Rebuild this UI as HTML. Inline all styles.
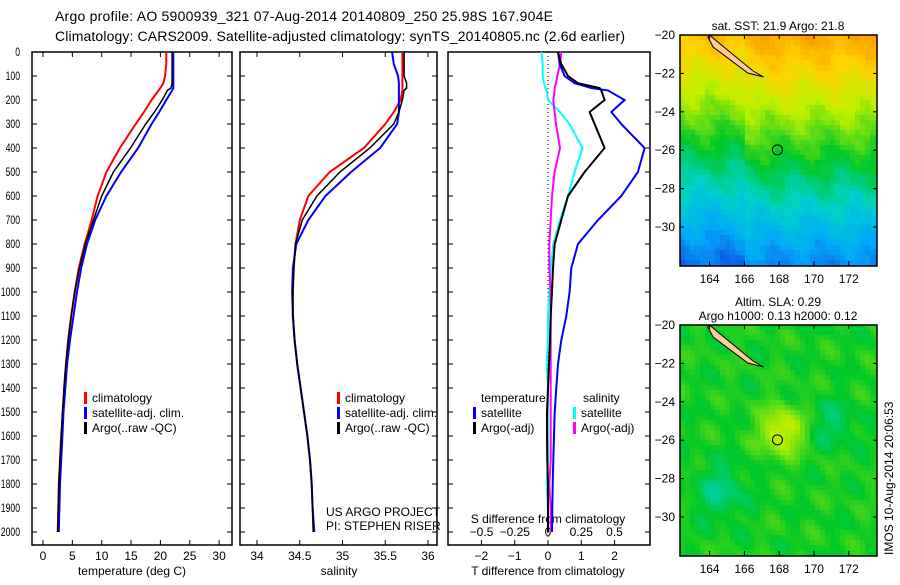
<!DOCTYPE html>
<html><head><meta charset="utf-8">
<style>
body{margin:0;background:#fff;width:900px;height:580px;overflow:hidden;font-family:"Liberation Sans",sans-serif}
svg text{font-family:"Liberation Sans",sans-serif;font-size:12px;fill:#000}
</style></head>
<body>
<svg id="chart" width="900" height="580" xmlns="http://www.w3.org/2000/svg">
<defs><clipPath id="c1"><rect x="680" y="35" width="197" height="231"/></clipPath><clipPath id="c2"><rect x="680" y="325" width="197" height="231"/></clipPath></defs>
<text x="55" y="21" textLength="498" style="font-size:14px">Argo profile: AO 5900939_321 07-Aug-2014 20140809_250 25.98S 167.904E</text>
<text x="55" y="41" textLength="570" style="font-size:14px">Climatology: CARS2009. Satellite-adjusted climatology: synTS_20140805.nc (2.6d earlier)</text>
<g id="g"></g>
<text transform="translate(893,555) rotate(-90)" style="font-size:12px">IMOS 10-Aug-2014 20:06:53</text>
</svg>
<script>
// ---- data ----
const depthTicks=[0,100,200,300,400,500,600,700,800,900,1000,1100,1200,1300,1400,1500,1600,1700,1800,1900,2000];
const tempTicks=[0,5,10,15,20,25,30];
const salTicks=[34,34.5,35,35.5,36];
const tdiffTicks=[-2,-1,0,1,2];
const sdiffTicks=[-0.5,-0.25,0,0.25,0.5];
const depths=[0,50,100,130,150,160,200,250,300,400,500,600,700,800,900,1000,1100,1200,1300,1400,1500,1600,1700,1800,1900,2000];
const tempClim=[21,21,20.8,20.5,20,19.7,18.5,17.2,15.8,13.1,10.8,9.3,8.3,7.1,6.1,5.4,4.8,4.3,3.9,3.6,3.4,3.1,2.9,2.7,2.6,2.5];
const tempArgo=[22,22,22,22,21.8,21.2,20.3,19,17.5,14.9,12,10,8.6,7.2,6.2,5.4,4.8,4.3,3.9,3.6,3.3,3.1,2.9,2.7,2.6,2.5];
const tempSat=[22.2,22.2,22.2,22.2,22.2,22,21,19.8,18.5,16.2,13.3,10.8,8.9,7.5,6.5,5.8,5.2,4.6,4.1,3.8,3.5,3.3,3.1,2.9,2.8,2.7];
const salClim=[35.7,35.7,35.7,35.7,35.7,35.7,35.68,35.6,35.5,35.25,34.85,34.6,34.5,34.45,34.43,34.42,34.42,34.44,34.47,34.51,34.55,34.59,34.62,34.64,34.65,34.66];
const salArgo=[35.72,35.72,35.72,35.75,35.75,35.72,35.7,35.66,35.6,35.32,34.97,34.7,34.53,34.45,34.43,34.42,34.42,34.44,34.47,34.51,34.55,34.59,34.62,34.64,34.65,34.66];
const salSat=[35.58,35.6,35.65,35.66,35.66,35.66,35.66,35.66,35.64,35.44,35.1,34.8,34.6,34.46,34.42,34.41,34.42,34.44,34.47,34.51,34.55,34.59,34.62,34.64,34.65,34.67];
const tdiffSat=[0.3,0.35,0.5,0.8,1.3,1.8,2.3,1.9,2.2,2.9,2.7,2.2,1.5,0.9,0.7,0.65,0.55,0.4,0.3,0.25,0.2,0.18,0.16,0.14,0.13,0.12];
const tdiffArgo=[0.3,0.4,0.6,0.9,1.55,1.6,1.7,1.25,1.4,1.7,1.1,0.6,0.4,0.2,0.15,0.12,0.08,0.06,0.03,0.0,-0.03,-0.03,-0.02,0,0,0];
const sdiffSat=[-0.05,-0.04,-0.04,-0.03,-0.02,-0.01,0,0.09,0.16,0.26,0.2,0.15,0.09,0.04,0.02,0.01,0,0,-0.01,0,0,0,0,-0.01,0,0];
const sdiffArgo=[0.1,0.09,0.07,0.06,0.05,0.05,0.04,0.05,0.06,0.09,0.05,0.03,0.02,0.01,0.01,0.02,0.02,0.02,0.02,0.02,0.02,0.02,0.02,0.01,0.02,0.02];
const latTicks=[-20,-22,-24,-26,-28,-30];
const lonTicks=[164,166,168,170,172];

const NS="http://www.w3.org/2000/svg";
const G=document.getElementById('g');
function el(t,a,p){const e=document.createElementNS(NS,t);for(const k in a)e.setAttribute(k,a[k]);(p||G).appendChild(e);return e;}
const BOT=545;
const Y=d=>52+d*0.24;
function panel(x0,x1,name){
  const r=el('rect',{x:x0,y:52,width:x1-x0,height:BOT-52,fill:'none',stroke:'#000','stroke-width':1.5});
  
  
  depthTicks.forEach(d=>{el('line',{x1:x0,x2:x0+5,y1:Y(d),y2:Y(d),stroke:'#000'});el('line',{x1:x1,x2:x1-5,y1:Y(d),y2:Y(d),stroke:'#000'});});
}
function line(xs,X,col,name,w){
  const pts=depths.map((d,i)=>X(xs[i]).toFixed(1)+','+Y(d).toFixed(1)).join(' ');
  const p=el('polyline',{points:pts,fill:'none',stroke:col,'stroke-width':w||2});
  
  
}
function txt(x,y,s,anchor,name){const t=el('text',{x:x,y:y,'text-anchor':anchor||'start'});t.textContent=s;return t;}
// panel 1
const XT=v=>43+v*5.87;
panel(32,232,'temperature-panel');
depthTicks.forEach(d=>{const s=String(d);const t=txt(20,Y(d)+4,s,'end','depth-tick-label');t.setAttribute('textLength',s.length*4.8);t.setAttribute('lengthAdjust','spacingAndGlyphs');});
tempTicks.forEach(v=>{el('line',{x1:XT(v),x2:XT(v),y1:BOT,y2:BOT-5,stroke:'#000'});el('line',{x1:XT(v),x2:XT(v),y1:52,y2:57,stroke:'#000'});txt(XT(v),560,String(v),'middle','temp-tick-label');});
txt(132,575,'temperature (deg C)','middle','x-axis-title-temperature');
line(tempClim,XT,'#f00','temp-climatology');line(tempSat,XT,'#00f','temp-satellite');line(tempArgo,XT,'#000','temp-argo',1.5);
function legend(x,y,pref){
  [['#f00','climatology'],['#00f','satellite-adj. clim.'],['#000','Argo(..raw -QC)']].forEach((c,i)=>{
    el('rect',{x:x,y:y+i*15-10,width:3,height:12,fill:c[0]});txt(x+8,y+i*15,c[1],'start',pref+'-legend-entry');});
}
legend(84,402,'temp');
// panel 2
const XS=v=>257+(v-34)*85.5;
panel(240,437,'salinity-panel');
salTicks.forEach(v=>{el('line',{x1:XS(v),x2:XS(v),y1:BOT,y2:BOT-5,stroke:'#000'});el('line',{x1:XS(v),x2:XS(v),y1:52,y2:57,stroke:'#000'});txt(XS(v),560,String(v),'middle','sal-tick-label');});
txt(339,575,'salinity','middle','x-axis-title-salinity');
line(salClim,XS,'#f00','sal-climatology');line(salSat,XS,'#00f','sal-satellite');line(salArgo,XS,'#000','sal-argo',1.5);
legend(337,402,'sal');
txt(326,516,'US ARGO PROJECT','start','project-label');txt(326,530,'PI: STEPHEN RISER','start','pi-label');
// panel 3
const XD=v=>548+v*33.3, XSD=v=>548+v*133;
panel(448,650,'difference-panel');
el('line',{x1:548,x2:548,y1:52,y2:BOT,stroke:'#000','stroke-dasharray':'1,3'});
tdiffTicks.forEach(v=>{el('line',{x1:XD(v),x2:XD(v),y1:BOT,y2:BOT-5,stroke:'#000'});txt(XD(v),560,String(v).replace('-','\u2212'),'middle','tdiff-tick-label');});
sdiffTicks.forEach(v=>txt(XSD(v),536,String(v).replace('-','\u2212'),'middle','sdiff-tick-label'));
txt(548,523,'S difference from climatology','middle','s-diff-axis-title');
txt(548,575,'T difference from climatology','middle','t-diff-axis-title');
line(sdiffSat,XSD,'#0ff','sdiff-satellite');line(sdiffArgo,XSD,'#f0f','sdiff-argo');
line(tdiffSat,XD,'#00f','tdiff-satellite');line(tdiffArgo,XD,'#000','tdiff-argo');
txt(481,402,'temperature','start','legend-title-temperature');txt(583,402,'salinity','start','legend-title-salinity');
[[473,417,'#00f','satellite'],[473,432,'#000','Argo(-adj)'],[573,417,'#0ff','satellite'],[573,432,'#f0f','Argo(-adj)']].forEach(a=>{el('rect',{x:a[0],y:a[1]-10,width:3,height:12,fill:a[2]});txt(a[0]+8,a[1],a[3],'start','diff-legend-entry');});
// maps
const LX=v=>680+(v-162.3)*17.4, LY0=(y0,v)=>y0+(-20-v)*19.2;
function ramp(t){t=Math.max(0,Math.min(1,t));const st=[[0,[20,60,220]],[0.2,[0,170,250]],[0.35,[0,210,200]],[0.5,[0,200,40]],[0.68,[190,240,0]],[0.82,[255,210,0]],[1,[250,140,0]]];
 for(let i=1;i<st.length;i++){if(t<=st[i][0]){const a=st[i-1],b=st[i],f=(t-a[0])/(b[0]-a[0]);return 'rgb('+a[1].map((c,j)=>Math.round(c+(b[1][j]-c)*f)).join(',')+')';}}}
function map(y0,field,name,title1,title2,clip){
  const g=el('g',{'clip-path':'url(#'+clip+')'});
  const s=5;
  for(let x=680;x<877;x+=s)for(let y=y0;y<y0+231;y+=s){
    const lon=162.3+(x-680)/17.4, lat=-20-(y-y0)/19.2;
    el('rect',{x:x,y:y,width:s,height:s,fill:ramp(field(lon,lat))},g);}
  el('path',{d:`M${LX(164)},${y0} L${LX(164.4)},${y0+6} L${LX(166.5)},${y0+36} L${LX(167.1)},${y0+42} L${LX(166.2)},${y0+38} L${LX(164.2)},${y0+12} L${LX(163.9)},${y0+2} Z`,fill:'#fc9','stroke':'#000'},g);
  el('circle',{cx:LX(167.9),cy:LY0(y0,-25.98),r:5,fill:'none',stroke:'#000'});
  el('rect',{x:680,y:y0,width:197,height:231,fill:'none',stroke:'#000','stroke-width':1.5});
  latTicks.forEach(v=>{const y=LY0(y0,v);el('line',{x1:680,x2:684,y1:y,y2:y,stroke:'#000'});el('line',{x1:877,x2:873,y1:y,y2:y,stroke:'#000'});txt(675,y+4,String(v).replace('-','\u2212'),'end','lat-tick-label');});
  lonTicks.forEach(v=>{el('line',{x1:LX(v),x2:LX(v),y1:y0+231,y2:y0+226,stroke:'#000'});el('line',{x1:LX(v),x2:LX(v),y1:y0,y2:y0+4,stroke:'#000'});txt(LX(v),y0+248,String(v),'middle','lon-tick-label');});
  if(title2)txt(778,y0-19,title1,'middle','map-title');
  txt(778,y0-5,title2||title1,'middle','map-title');
}
const n=(a,b)=>(Math.sin(a*3.1+b*2.3)*Math.cos(a*1.7-b*4.1)+Math.sin(a*7.3+b*5.9)*0.5)*0.5;
map(35,(lon,lat)=>0.92+(lat+20)*0.066+0.04*n(lon,lat)+0.03*Math.sin(lon*2.2+lat)-(lon<166?0.05:0),'sst-map','sat. SST: 21.9  Argo: 21.8',null,'c1');
map(325,(lon,lat)=>0.52+0.2*Math.exp(-((lon-168)**2+(lat+25.4)**2)/1.5)+0.07*n(lon*0.5,lat*0.5)-0.1*Math.exp(-((lon-164.5)**2+(lat+28.5)**2)/2)-0.08*Math.exp(-((lon-171)**2+(lat+25)**2)/1.5),'sla-map','Altim. SLA: 0.29','Argo h1000: 0.13 h2000: 0.12','c2');
</script>
</body></html>
